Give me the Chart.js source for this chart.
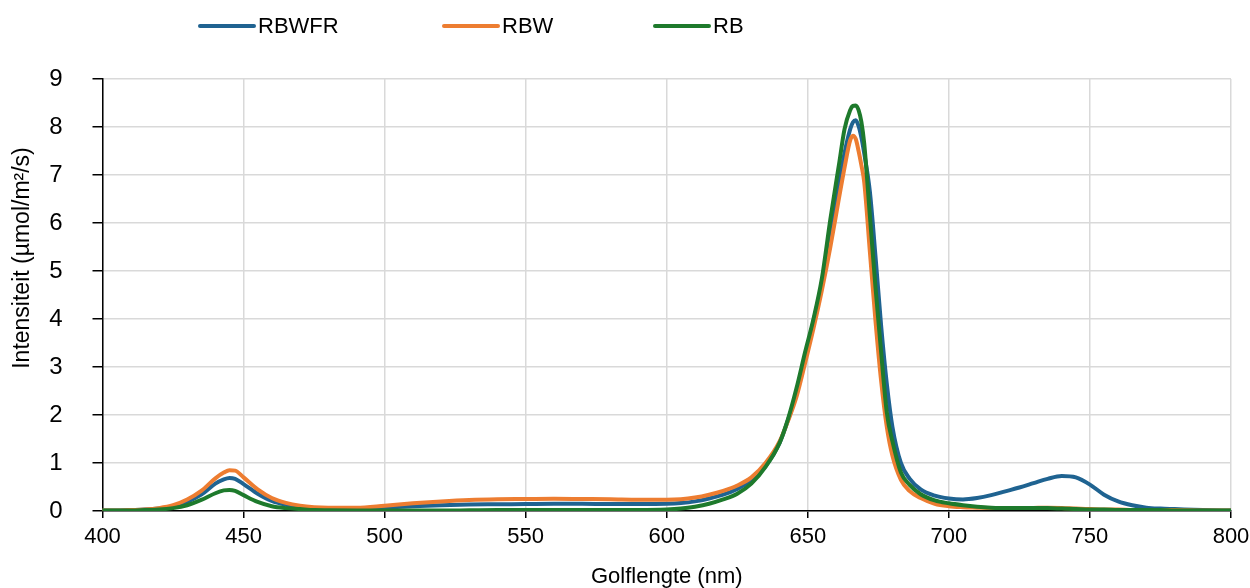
<!DOCTYPE html>
<html>
<head>
<meta charset="utf-8">
<script src="https://cdn.jsdelivr.net/npm/chart.js@4"></script>
<style>
  html, body { margin: 0; padding: 0; background: #ffffff; }
  #wrap { width: 1250px; height: 588px; position: relative; }
</style>
</head>
<body>
<div id="wrap"><canvas id="c" width="1250" height="588"></canvas></div>
<script>
// ---- data ----
const wavelengths = [400,405,410,415,420,425,430,435,440,443,445,447,450,455,460,465,470,475,480,
  490,500,510,520,530,540,550,560,570,580,590,600,605,610,615,620,625,630,635,640,
  643,646,649,652,655,658,661,663,665,666,667,668,669,670,672,674,676,678,680,683,686,690,
  695,700,705,710,715,720,725,730,735,740,745,750,755,760,765,770,775,780,790,800];

const rbwfr = [0.01,0.01,0.02,0.03,0.05,0.09,0.19,0.34,0.57,0.66,0.69,0.67,0.56,0.36,0.21,0.13,0.08,0.06,0.05,
  0.045,0.07,0.10,0.12,0.135,0.14,0.145,0.15,0.15,0.145,0.145,0.15,0.165,0.20,0.26,0.34,0.46,0.64,0.93,1.42,
  1.9,2.45,3.2,3.95,4.75,5.8,6.8,7.45,7.95,8.1,8.14,8.02,7.78,7.45,6.65,5.3,3.85,2.65,1.75,1.0,0.68,0.45,
  0.32,0.26,0.24,0.27,0.33,0.41,0.49,0.58,0.67,0.73,0.70,0.55,0.34,0.20,0.12,0.07,0.05,0.04,0.02,0.01];

const rbw = [0.01,0.01,0.02,0.03,0.06,0.12,0.24,0.42,0.68,0.80,0.85,0.84,0.70,0.45,0.27,0.17,0.11,0.08,0.07,
  0.07,0.11,0.16,0.20,0.23,0.245,0.25,0.255,0.25,0.245,0.235,0.235,0.245,0.28,0.34,0.42,0.53,0.70,1.0,1.45,
  1.88,2.38,3.07,3.8,4.6,5.5,6.5,7.15,7.72,7.82,7.75,7.5,7.2,6.85,5.4,3.95,2.7,1.75,1.15,0.65,0.42,0.27,
  0.15,0.10,0.08,0.07,0.06,0.06,0.06,0.065,0.07,0.065,0.05,0.04,0.03,0.03,0.02,0.02,0.02,0.02,0.01,0.01];

const rb = [0.01,0.01,0.01,0.02,0.03,0.06,0.12,0.23,0.37,0.43,0.44,0.42,0.33,0.19,0.10,0.06,0.04,0.02,0.015,
  0.01,0.01,0.01,0.01,0.015,0.02,0.02,0.02,0.02,0.02,0.02,0.03,0.05,0.09,0.15,0.24,0.36,0.57,0.92,1.42,
  1.92,2.56,3.3,4.0,4.85,6.08,7.2,7.95,8.35,8.44,8.45,8.35,8.1,7.65,6.15,4.65,3.3,2.05,1.45,0.8,0.55,0.35,
  0.22,0.16,0.12,0.09,0.07,0.06,0.06,0.06,0.06,0.05,0.04,0.03,0.03,0.02,0.02,0.02,0.02,0.01,0.01,0.01];

const seriesNames = ['RBWFR', 'RBW', 'RB'];
const seriesColors = ['#1F6391', '#ED7D31', '#1E7A2C'];
const xTickMin = 400, xTickMax = 800, xTickStep = 50;
const yTickMin = 0, yTickMax = 9, yTickStep = 1;
const xTitle = 'Golflengte (nm)';
const yTitle = 'Intensiteit (µmol/m²/s)';

const FONT = "'Liberation Sans', Arial, sans-serif";
const toPoints = vals => wavelengths.map((w, i) => ({ x: w, y: vals[i] }));
const seriesValues = [rbwfr, rbw, rb];

const datasets = seriesValues.map((vals, i) => ({
  label: seriesNames[i],
  data: toPoints(vals),
  borderColor: seriesColors[i],
  backgroundColor: seriesColors[i],
  borderWidth: 4,
  borderJoinStyle: 'round',
  borderCapStyle: 'round',
  pointRadius: 0,
  cubicInterpolationMode: 'monotone',
  fill: false,
  order: 3 - i
}));

// custom legend + rotated y title
const legendX = [200, 444, 655];
const overlay = {
  id: 'overlay',
  afterDraw(chart) {
    const ctx = chart.ctx;
    ctx.save();
    ctx.font = '22px ' + FONT;
    ctx.textBaseline = 'middle';
    ctx.textAlign = 'left';
    chart.data.datasets.forEach((ds, i) => {
      const x0 = legendX[i], y0 = 26;
      ctx.strokeStyle = ds.borderColor;
      ctx.lineWidth = 4;
      ctx.lineCap = 'round';
      ctx.beginPath();
      ctx.moveTo(x0, y0);
      ctx.lineTo(x0 + 54, y0);
      ctx.stroke();
      ctx.fillStyle = '#000000';
      ctx.fillText(ds.label, x0 + 58, y0 + 1);
    });
    ctx.translate(23, 258);
    ctx.rotate(-Math.PI / 2);
    ctx.textAlign = 'center';
    ctx.font = '23px ' + FONT;
    ctx.fillText(yTitle, 0, 0);
    ctx.restore();
  }
};

new Chart(document.getElementById('c'), {
  type: 'line',
  data: { datasets },
  options: {
    responsive: false,
    animation: false,
    devicePixelRatio: 1,
    layout: { padding: { top: 79, right: 19, bottom: 0, left: 0 } },
    plugins: { legend: { display: false }, tooltip: { enabled: false } },
    scales: {
      x: {
        type: 'linear',
        min: xTickMin, max: xTickMax,
        afterFit(scale) { scale.height = 77; scale.paddingRight = 0; scale.paddingLeft = 0; },
        ticks: { stepSize: xTickStep, color: '#000', font: { family: FONT, size: 22 }, padding: 6, maxRotation: 0 },
        grid: { color: '#D9D9D9', lineWidth: 1.5, tickColor: '#000', tickLength: 7, tickWidth: 1.5 },
        border: { color: '#000', width: 1.5 },
        title: { display: true, text: xTitle, color: '#000', font: { family: FONT, size: 22, lineHeight: 1 }, padding: { top: 0, bottom: 0 } }
      },
      y: {
        min: yTickMin, max: yTickMax,
        afterFit(scale) { scale.width = 102.5; scale.paddingTop = 0; scale.paddingBottom = 0; },
        ticks: { stepSize: yTickStep, color: '#000', font: { family: FONT, size: 24 }, padding: 30 },
        grid: { color: '#D9D9D9', lineWidth: 1.5, tickColor: '#000', tickLength: 10, tickWidth: 1.5 },
        border: { color: '#000', width: 1.5 }
      }
    }
  },
  plugins: [overlay]
});
</script>
</body>
</html>
